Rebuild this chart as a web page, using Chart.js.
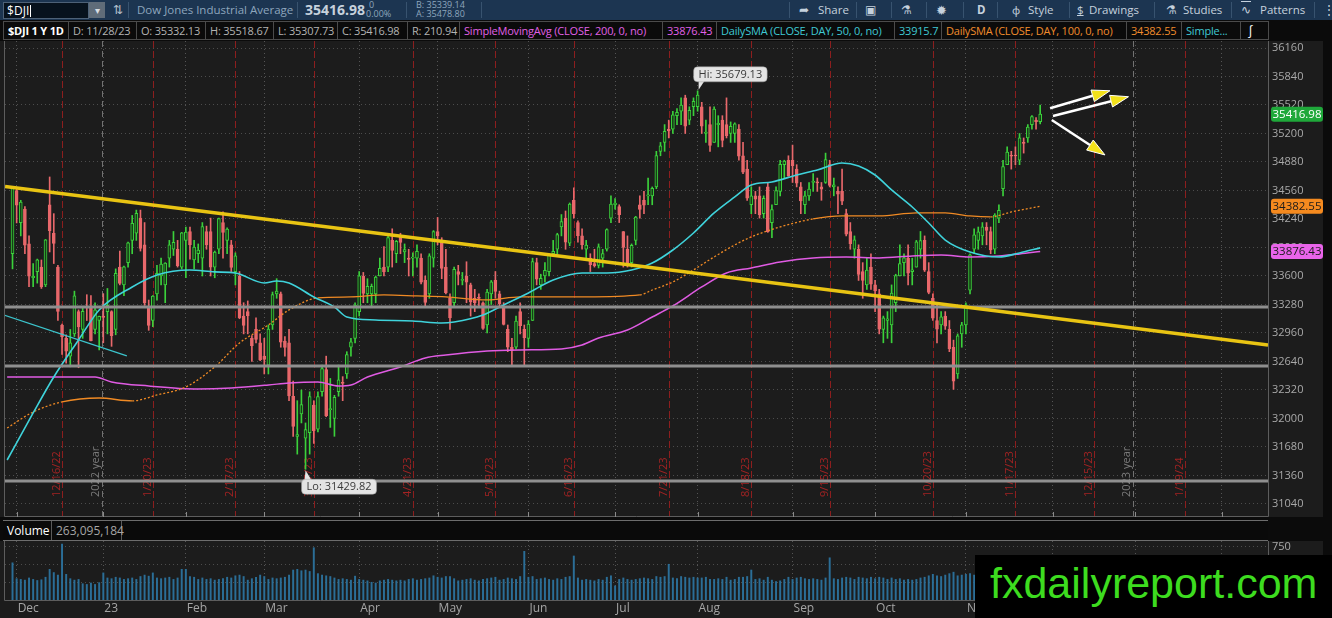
<!DOCTYPE html>
<html lang="en">
<head>
<meta charset="utf-8">
<title>$DJI 1 Y 1D</title>
<script src="https://cdn.jsdelivr.net/npm/chart.js@4.4.1/dist/chart.umd.min.js"></script>
<style>
  html, body { margin: 0; padding: 0; background: #0b0b0b; }
  body { position: relative; width: 1332px; height: 618px; overflow: hidden; font-family: "Open Sans", "Noto Sans", sans-serif; }
  .abs { position: absolute; white-space: nowrap; }
  #toolbar { left: 0; top: 0; width: 1332px; height: 20px; background: #1c3551; color: #c5d1dd; font-size: 11.5px; line-height: 20px; }
  #toolbar .sep { top: 2px; width: 1px; height: 16px; background: #38536f; }
  #toolbar .tiny { font-size: 9px; line-height: 10px; color: #8ea6bd; }
  #symbol { left: 3px; top: 2px; width: 84px; height: 15px; background: #07121d; border: 1px solid #4d6177; color: #fff; font-size: 12px; line-height: 15px; }
  #symbol i { display: inline-block; width: 1px; height: 12px; background: #fff; vertical-align: -2px; margin-left: 1px; }
  #ddBtn { left: 89px; top: 2px; width: 16px; height: 16px; background: #5f6c79; color: #d8dde2; font-size: 10px; line-height: 16px; text-align: center; }
  #info { left: 0; top: 20px; width: 1332px; height: 21px; background: #0b0b0b; }
  #info .cell { top: 1px; height: 19px; border: 1px solid #4b4b4b; border-left: none; font-size: 11px; letter-spacing: -0.2px; line-height: 17px; color: #b3b3b3; padding-left: 4px; box-sizing: border-box; }
  #priceWrap { left: 0; top: 41px; width: 1332px; height: 476px; }
  #volHead { left: 3px; top: 520px; width: 1265px; height: 21px; border-top: 1px solid #6d6d6d; border-bottom: 1px solid #6d6d6d; box-sizing: border-box; background: #0a0a0a; }
  #volHead .cell { top: 0; height: 19px; line-height: 19px; font-size: 12px; border-right: 1px solid #5a5a5a; box-sizing: border-box; padding-left: 4px; }
  #volWrap { left: 0; top: 541px; width: 1332px; height: 77px; }
  #brand { left: 975px; top: 555px; width: 357px; height: 63px; background: #000; }
  #brand span { position: absolute; left: 15px; top: 7px; font-family: "Liberation Sans", Arial, sans-serif; font-size: 43px; line-height: 43px; color: #3ddc1f; }
</style>
</head>
<body>

<div id="toolbar" class="abs">
  <div id="symbol" class="abs">&nbsp;$DJI<i></i></div>
  <div id="ddBtn" class="abs">&#9662;</div>
  <div class="abs" style="left:113px;color:#b8c4d0;font-size:12px;">&#8645;</div>
  <div class="abs sep" style="left:128px"></div>
  <div class="abs" style="left:137px;color:#8ea6bd;">Dow Jones Industrial Average</div>
  <div class="abs sep" style="left:297px"></div>
  <div class="abs" style="left:305px;font-weight:700;font-size:14px;color:#c6d1dc;">35416.98</div>
  <div class="abs tiny" style="left:369px;top:0">0</div>
  <div class="abs tiny" style="left:366px;top:9px">0.00%</div>
  <div class="abs sep" style="left:406px"></div>
  <div class="abs tiny" style="left:416px;top:0">B: 35339.14</div>
  <div class="abs tiny" style="left:416px;top:9px">A: 35478.80</div>
  <div class="abs sep" style="left:481px"></div>

  <div class="abs sep" style="left:789px"></div>
  <div class="abs" style="left:799px;font-size:12px;">&#10150;</div>
  <div class="abs" style="left:818px;">Share</div>
  <div class="abs sep" style="left:856px"></div>
  <div class="abs" style="left:865px;font-size:12px;">&#9635;</div>
  <div class="abs sep" style="left:891px"></div>
  <div class="abs" style="left:901px;font-size:12px;">&#9879;</div>
  <div class="abs sep" style="left:926px"></div>
  <div class="abs" style="left:936px;font-size:13px;">&#10041;</div>
  <div class="abs sep" style="left:963px"></div>
  <div class="abs" style="left:977px;font-weight:700;">D</div>
  <div class="abs sep" style="left:997px"></div>
  <div class="abs" style="left:1012px;">&#1092;</div>
  <div class="abs" style="left:1028px;">Style</div>
  <div class="abs sep" style="left:1069px"></div>
  <div class="abs" style="left:1077px;text-decoration:underline;">$</div>
  <div class="abs" style="left:1089px;">Drawings</div>
  <div class="abs sep" style="left:1154px"></div>
  <div class="abs" style="left:1166px;font-size:12px;">&#9879;</div>
  <div class="abs" style="left:1183px;">Studies</div>
  <div class="abs sep" style="left:1231px"></div>
  <div class="abs" style="left:1241px;text-decoration:overline;">&#8767;</div>
  <div class="abs" style="left:1260px;">Patterns</div>
  <div class="abs sep" style="left:1314px"></div>
  <div class="abs" style="left:1323px;">&#8942;</div>
</div>

<div id="info" class="abs">
  <div class="abs cell" style="left:3px;width:66px;border-left:1px solid #4b4b4b;color:#fff;font-weight:700;">$DJI 1 Y 1D</div>
  <div class="abs cell" style="left:69px;width:68px;">D: 11/28/23</div>
  <div class="abs cell" style="left:137px;width:69px;">O: 35332.13</div>
  <div class="abs cell" style="left:206px;width:68px;">H: 35518.67</div>
  <div class="abs cell" style="left:274px;width:64px;">L: 35307.73</div>
  <div class="abs cell" style="left:338px;width:70px;">C: 35416.98</div>
  <div class="abs cell" style="left:408px;width:52px;">R: 210.94</div>
  <div class="abs cell" style="left:460px;width:203px;color:#e060e6;">SimpleMovingAvg (CLOSE, 200, 0, no)</div>
  <div class="abs cell" style="left:663px;width:54px;color:#e060e6;">33876.43</div>
  <div class="abs cell" style="left:717px;width:178px;color:#3fc9d4;">DailySMA (CLOSE, DAY, 50, 0, no)</div>
  <div class="abs cell" style="left:895px;width:47px;color:#3fc9d4;">33915.7</div>
  <div class="abs cell" style="left:942px;width:185px;color:#f18b2c;">DailySMA (CLOSE, DAY, 100, 0, no)</div>
  <div class="abs cell" style="left:1127px;width:55px;color:#f18b2c;">34382.55</div>
  <div class="abs cell" style="left:1182px;width:59px;color:#3fc9d4;">Simple...</div>
  <div class="abs cell" style="left:1241px;width:28px;color:#fff;font-size:13px;padding-left:7px;">&#8747;</div>
</div>

<div id="priceWrap" class="abs"><canvas id="priceChart" width="1332" height="476"></canvas></div>

<div id="volHead" class="abs">
  <div class="abs cell" style="left:0;width:49px;color:#fff;">Volume</div>
  <div class="abs cell" style="left:49px;width:70px;color:#a5a5a5;">263,095,184</div>
</div>

<div id="volWrap" class="abs"><canvas id="volChart" width="1332" height="77"></canvas></div>

<div id="brand" class="abs"><span>fxdailyreport.com</span></div>

<script>
// trading days from 11/30/22 (index 0) to 11/28/23 (index 249), one line per month
const opens = [33850,
  34560, 34200, 34350, 33960, 33580, 33650, 33700, 33500, 34400, 34080, 33700, 33050, 32900, 32700, 32950, 33200, 33000, 33250, 33250, 33000, 33100,
  33150, 33200, 33200, 33000, 33700, 33500, 33750, 34000, 34080, 34250, 33950, 33250, 33100, 33400, 33600, 33500, 33800, 33900, 33900, 33700,
  34000, 34100, 33780, 33850, 33800, 34100, 34100, 33700, 33900, 34200, 34000, 33950, 33650, 33600, 33150, 33200, 32900, 33000, 32850,
  32700, 32600, 33050, 33400, 33400, 32870, 32850, 32250, 31800, 32050, 31780, 31840, 32150, 31880, 32300, 32550, 32100, 32000, 32300, 32400, 32500, 32800, 32900,
  33200, 33600, 33400, 33400, 33400, 33600, 33700, 33700, 34000, 33850, 34050, 33870, 33800, 33800, 33800, 33800, 33550, 33400, 33800,
  34100, 34000, 33700, 33350, 33300, 33650, 33550, 33600, 33500, 33350, 33350, 33300, 33050, 33400, 33550, 33400, 33250, 33000, 32800, 32800, 33200, 33000,
  32900, 33100, 33750, 33500, 33600, 33650, 33850, 33900, 34150, 34250, 33970, 34450, 34200, 34050, 33900, 33800, 33740, 33720, 33800, 33900, 34250,
  34400, 34380, 34100, 33900, 33750, 34000, 34400, 34450, 34500, 34500, 34600, 35000, 35100, 35250, 35250, 35400, 35450, 35600, 35350, 35500,
  35500, 35500, 35200, 35300, 35100, 35300, 35350, 35300, 35200, 35200, 35250, 34950, 34800, 34400, 34500, 34500, 34300, 34600, 34200, 34400, 34550, 34850, 34900,
  34900, 34800, 34600, 34400, 34500, 34650, 34650, 34600, 34650, 34850, 34600, 34550, 34550, 34300, 34100, 33900, 33900, 33650, 33500, 33700,
  33500, 33400, 33000, 33100, 33050, 33300, 33600, 33750, 33800, 33650, 33700, 33900, 34000, 33650, 33350, 33100, 33050, 33150, 33000, 32800, 32500, 32950,
  33050, 33440, 33900, 34000, 34050, 34150, 34100, 33900, 34250, 34580, 34850, 34950, 34950, 34900, 35100, 35150, 35300, 35350, 35332.13];

const highs = [34590,
  34595, 34450, 34380, 34050, 33740, 33790, 33780, 34010, 34712, 34300, 33720, 33060, 32940, 33000, 33430, 33220, 33240, 33390, 33380, 33300, 33150,
  33400, 33460, 33210, 33680, 33880, 33710, 33980, 34280, 34340, 34340, 34200, 33330, 33380, 33720, 33800, 33750, 34000, 34100, 34000, 34090,
  34150, 34150, 34000, 33960, 34200, 34160, 34250, 33880, 34250, 34320, 34140, 34000, 33860, 33650, 33300, 33320, 32930, 33130, 32950,
  32900, 33050, 33420, 33570, 33420, 32920, 33000, 32420, 32200, 32320, 31950, 32300, 32200, 32300, 32600, 32700, 32450, 32260, 32600, 32470, 32750, 32900, 33300,
  33650, 33640, 33570, 33510, 33600, 33800, 33930, 34060, 34130, 34000, 34080, 33960, 33900, 33860, 33950, 33850, 33600, 33850, 34110,
  34257, 34030, 33900, 33400, 33700, 33720, 33640, 33760, 33520, 33450, 33400, 33310, 33450, 33550, 33650, 33430, 33300, 33050, 32900, 33150, 33300, 33050,
  33100, 33800, 33800, 33620, 33750, 33850, 34000, 34080, 34290, 34330, 34420, 34590, 34220, 34130, 34000, 33850, 33900, 33960, 33900, 34130, 34500,
  34470, 34400, 34100, 34050, 33960, 34270, 34500, 34550, 34700, 34600, 35000, 35100, 35300, 35350, 35450, 35480, 35600, 35630, 35500, 35600,
  35679.13, 35550, 35350, 35500, 35500, 35400, 35400, 35600, 35330, 35320, 35300, 35100, 34900, 34600, 34550, 34600, 34500, 34650, 34400, 34600, 34900, 34900, 34950,
  35070, 34850, 34650, 34550, 34650, 34750, 34700, 34650, 34980, 34900, 34700, 34600, 34800, 34350, 34200, 34050, 33950, 33750, 33800, 33850,
  33550, 33450, 33150, 33200, 33500, 33620, 33950, 33850, 33950, 33800, 34000, 34100, 34050, 33750, 33400, 33300, 33200, 33200, 33100, 32880, 32950, 33080,
  33300, 33850, 34130, 34150, 34200, 34200, 34150, 34300, 34400, 34900, 35050, 35000, 35050, 35200, 35150, 35300, 35400, 35380, 35518.67];

const lows = [33680,
  34196, 34050, 33850, 33480, 33480, 33520, 33460, 33480, 33870, 33740, 33100, 32720, 32620, 32580, 32920, 32570, 32900, 33100, 32870, 32950, 32770,
  32850, 32950, 32810, 32940, 33500, 33380, 33700, 33850, 34000, 33880, 33270, 32990, 33030, 33330, 33500, 33300, 33700, 33830, 33700, 33680,
  33580, 33790, 33680, 33750, 33600, 33900, 33600, 33580, 33850, 33800, 33850, 33650, 33500, 33120, 32950, 32950, 32640, 32850, 32650,
  32500, 32500, 33000, 33350, 32800, 32700, 32200, 31800, 31600, 31950, 31429.82, 31600, 31720, 31850, 32250, 32020, 31900, 31800, 32250, 32200, 32450, 32700, 32850,
  33150, 33300, 33300, 33250, 33300, 33600, 33600, 33650, 33700, 33750, 33850, 33750, 33600, 33600, 33700, 33510, 33250, 33350, 33700,
  33950, 33570, 33400, 33000, 33250, 33500, 33500, 33300, 33150, 33200, 33250, 33000, 32960, 33280, 33350, 33250, 33050, 32750, 32600, 32780, 32950, 32600,
  32800, 33100, 33500, 33450, 33530, 33600, 33830, 33850, 34050, 33900, 33940, 34250, 33980, 33900, 33800, 33650, 33700, 33690, 33700, 33880, 34200,
  34350, 34200, 33700, 33700, 33700, 33950, 34250, 34300, 34400, 34400, 34580, 34950, 35000, 35150, 35200, 35300, 35300, 35200, 35300, 35400,
  35450, 35200, 35100, 35000, 35100, 35050, 35050, 35150, 35100, 35100, 34900, 34750, 34450, 34300, 34300, 34250, 34250, 34090, 34030, 34400, 34500, 34700, 34720,
  34650, 34600, 34300, 34300, 34450, 34550, 34550, 34450, 34640, 34600, 34500, 34300, 34400, 34050, 33900, 33800, 33550, 33350, 33450, 33450,
  33200, 32950, 32850, 32900, 32850, 33200, 33600, 33600, 33500, 33500, 33700, 33800, 33650, 33400, 33100, 32850, 32950, 33000, 32750, 32327, 32450, 32800,
  32950, 33400, 33850, 33900, 33950, 33950, 33850, 33850, 34200, 34500, 34850, 34800, 34850, 34850, 34980, 35100, 35250, 35250, 35307.73];

const closes = [34590,
  34395, 34430, 33947, 33597, 33598, 33781, 33477, 34005, 34108, 33966, 33203, 32920, 32757, 32850, 33376, 33027, 33203, 33241, 32875, 33221, 33147,
  33136, 33270, 32930, 33631, 33517, 33704, 33973, 34190, 34303, 33910, 33297, 33045, 33375, 33630, 33734, 33744, 33949, 33978, 33717, 34086,
  34093, 33949, 33926, 33891, 34156, 33949, 33699, 33869, 34246, 34089, 34128, 33697, 33827, 33130, 33045, 33154, 32817, 32889, 32657,
  32662, 33004, 33391, 33431, 32856, 32798, 32254, 31910, 31820, 32155, 31875, 32247, 31862, 32245, 32561, 32031, 32106, 32238, 32433, 32395, 32718, 32860, 33274,
  33601, 33403, 33483, 33485, 33587, 33685, 33647, 34030, 33887, 33988, 33977, 33897, 33787, 33809, 33876, 33531, 33302, 33826, 34098,
  34051, 33684, 33414, 33128, 33674, 33619, 33562, 33531, 33309, 33301, 33349, 33012, 33420, 33535, 33427, 33286, 33055, 32800, 32765, 33093, 33043, 32908,
  33061, 33763, 33563, 33573, 33665, 33834, 33877, 34066, 34212, 33979, 34408, 34299, 34054, 33952, 33947, 33727, 33715, 33927, 33853, 34122, 34408,
  34418, 34288, 33922, 33734, 33945, 34262, 34347, 34395, 34509, 34585, 34952, 35061, 35225, 35228, 35411, 35438, 35520, 35282, 35459, 35560,
  35630, 35282, 35216, 35066, 35473, 35314, 35123, 35176, 35281, 35308, 34946, 34766, 34475, 34501, 34464, 34288, 34473, 34099, 34347, 34560, 34853, 34891, 34722,
  34838, 34642, 34443, 34501, 34577, 34664, 34646, 34576, 34907, 34618, 34625, 34518, 34441, 34070, 33964, 34007, 33619, 33551, 33667, 33508,
  33433, 33002, 33129, 33120, 33408, 33605, 33740, 33805, 33631, 33670, 33985, 33998, 33666, 33415, 33127, 33002, 33141, 33036, 32785, 32418, 32929, 33053,
  33275, 33839, 34061, 34096, 34153, 34112, 33892, 34283, 34337, 34828, 34991, 34945, 34947, 35151, 35088, 35273, 35390, 35333, 35416.98];

// volume, millions
const volumes = [530,
  310, 300, 290, 320, 300, 285, 295, 330, 440, 395, 360, 790, 370, 310, 290, 300, 240, 230, 250, 230, 255,
  390, 320, 310, 330, 320, 300, 310, 320, 300, 340, 360, 345, 390, 320, 310, 320, 330, 300, 320, 440,
  440, 340, 330, 300, 320, 300, 310, 290, 300, 310, 330, 320, 350, 360, 340, 290, 310, 330, 360,
  340, 300, 320, 310, 320, 330, 360, 430, 440, 420, 430, 410, 740, 380, 360, 350, 340, 320, 300, 310, 300, 290, 345,
  300, 290, 280, 260, 250, 280, 290, 300, 290, 280, 290, 280, 300, 310, 290, 300, 310, 320, 350,
  330, 320, 340, 340, 310, 280, 290, 300, 310, 290, 280, 300, 310, 320, 330, 290, 300, 320, 310, 300, 340, 690,
  330, 340, 300, 310, 320, 300, 290, 310, 300, 330, 340, 625, 320, 290, 300, 290, 280, 300, 290, 330, 350,
  210, 300, 320, 300, 290, 300, 310, 320, 310, 300, 340, 330, 340, 510, 320, 310, 340, 330, 320, 330,
  320, 320, 330, 300, 300, 310, 300, 330, 290, 300, 330, 330, 340, 430, 300, 310, 290, 330, 290, 270, 280, 300, 330,
  300, 320, 330, 310, 300, 310, 300, 290, 320, 600, 310, 300, 320, 330, 320, 300, 330, 320, 310, 330,
  310, 330, 320, 300, 320, 300, 310, 290, 300, 290, 300, 320, 330, 350, 370, 350, 340, 360, 380, 400, 350, 360,
  370, 380, 360, 300, 310, 300, 290, 300, 280, 370, 330, 310, 420, 270, 250, 260, 150, 240, 263.1];

// moving averages at sample days
const sma50Idx = [-1.3, 5, 10, 16, 21, 29, 35, 43, 49, 54, 61, 64, 67, 73, 78, 81, 88, 97, 104, 107, 114, 119, 125, 131, 138, 144, 150, 155, 160, 165, 170, 175, 179, 184, 190, 195, 201, 205, 209, 213, 218, 222, 226, 232, 239, 244, 249];
const sma50Val = [31534, 32062, 32466, 32882, 33219, 33477, 33612, 33668, 33646, 33634, 33522, 33544, 33522, 33365, 33252, 33140, 33106, 33095, 33072, 33084, 33162, 33275, 33410, 33555, 33634, 33634, 33668, 33746, 33892, 34083, 34308, 34488, 34622, 34656, 34734, 34790, 34869, 34835, 34734, 34566, 34375, 34195, 34004, 33870, 33814, 33859, 33916];
const sma100Idx = [-1.3, 5, 12, 21, 29, 35, 42, 49, 55, 62, 67, 74, 82, 90, 98, 105, 115, 123, 139, 152, 155, 160, 165, 170, 175, 179, 186, 194, 201, 210, 219, 226, 232, 237, 242, 249];
const sma100Val = [31893, 32073, 32186, 32230, 32197, 32264, 32354, 32579, 32848, 33050, 33219, 33354, 33365, 33387, 33376, 33365, 33331, 33365, 33365, 33387, 33443, 33533, 33668, 33814, 33949, 34039, 34151, 34241, 34274, 34274, 34308, 34308, 34274, 34263, 34319, 34383];
const sma200Idx = [-1.3, 9, 20, 24, 33, 45, 53, 62, 67, 74, 79, 82, 86, 94, 100, 105, 115, 123, 133, 138, 142, 149, 155, 160, 167, 173, 179, 186, 194, 202, 210, 218, 225, 232, 239, 244, 249];
const sma200Val = [32466, 32466, 32466, 32410, 32365, 32332, 32343, 32376, 32399, 32410, 32365, 32376, 32466, 32579, 32680, 32713, 32758, 32770, 32781, 32826, 32904, 32994, 33140, 33264, 33477, 33634, 33690, 33758, 33803, 33814, 33803, 33825, 33836, 33814, 33825, 33848, 33876];

// drawings
const trendX = [-1.8, 304.2];
const trendY = [34605, 32825];
const shortTrendX = [-2.1, 27.7];
const shortTrendY = [33162, 32702];
const supportLevels = [33252, 32590, 31298];
const arrowFromX = [251.4, 252.1, 251.8];
const arrowFromY = [35483, 35396, 35352];
const arrowToX = [265.9, 270.4, 264.7];
const arrowToY = [35680, 35613, 34959];
const extremeIdx = [166, 71];
const extremeVal = [35679.13, 31429.82];
const extremeText = ['Hi: 35679.13', 'Lo: 31429.82'];

// axes
const priceTicks = [31040, 31360, 31680, 32000, 32320, 32640, 32960, 33280, 33600, 33920, 34240, 34560, 34880, 35200, 35520, 35840, 36160];
const volTicks = [250, 500, 750];
const monthIdx = [1, 22, 42, 61, 84, 103, 125, 146, 166, 189, 209, 231, 252, 272, 293];
const monthLabels = ['Dec', '23', 'Feb', 'Mar', 'Apr', 'May', 'Jun', 'Jul', 'Aug', 'Sep', 'Oct', 'Nov', 'Dec', '24', 'Feb'];
const expiryIdx = [12, 34, 54, 73, 97, 117, 136, 159, 179, 198, 223, 243, 262, 284];
const expiryLabels = ['12/16/22', '1/20/23', '2/17/23', '3/17/23', '4/21/23', '5/19/23', '6/16/23', '7/21/23', '8/18/23', '9/15/23', '10/20/23', '11/17/23', '12/15/23', '1/19/24'];
const yearIdx = [21.6, 271.6];
const yearLabels = ['2022 year', '2023 year'];
const axisTagValues = [35416.98, 34382.55, 33876.43];
const axisTagFill = ['#1fa83a', '#f58a1f', '#e964ea'];
const axisTagInk = ['#ffffff', '#1b1b1b', '#1b1b1b'];

const X_MIN = -1.82, X_MAX = 304.2;
const UP = '#3bd13b', UP_FILL = '#173d17', DOWN = '#e8686b';
const FONT = '"Open Sans", sans-serif';

Chart.defaults.font.family = FONT;
Chart.defaults.color = '#a9a9a9';

const dayIdx = closes.map((c, i) => i);
const isUp = i => closes[i] >= opens[i];
const pts = (xs, ys) => xs.map((x, i) => ({ x: x, y: ys[i] }));

function monthTicks(scale) {
  scale.ticks = monthIdx.map(v => ({ value: v }));
}

// keep the plot area flush with the canvas edges
function flatX(h) {
  return s => { s.height = h; s.paddingLeft = 0; s.paddingRight = 0; };
}
function flatY(s) {
  s.width = 64; s.paddingTop = 0; s.paddingBottom = 0;
}

function roundRect(ctx, x, y, w, h, r) {
  ctx.beginPath();
  ctx.moveTo(x + r, y);
  ctx.arcTo(x + w, y, x + w, y + h, r);
  ctx.arcTo(x + w, y + h, x, y + h, r);
  ctx.arcTo(x, y + h, x, y, r);
  ctx.arcTo(x, y, x + w, y, r);
  ctx.closePath();
}

function drawArrow(ctx, x0, y0, x1, y1) {
  const ang = Math.atan2(y1 - y0, x1 - x0);
  const len = 18, half = 6;
  const bx = x1 - len * Math.cos(ang), by = y1 - len * Math.sin(ang);
  ctx.strokeStyle = '#ffffff';
  ctx.lineWidth = 2.5;
  ctx.beginPath();
  ctx.moveTo(x0, y0);
  ctx.lineTo(bx, by);
  ctx.stroke();
  ctx.beginPath();
  ctx.moveTo(x1, y1);
  ctx.lineTo(bx + half * Math.sin(ang), by - half * Math.cos(ang));
  ctx.lineTo(bx - half * Math.sin(ang), by + half * Math.cos(ang));
  ctx.closePath();
  ctx.fillStyle = '#f2e11a';
  ctx.fill();
  ctx.strokeStyle = '#ffffff';
  ctx.lineWidth = 1;
  ctx.stroke();
}

function drawCallout(ctx, px, py, text, above) {
  ctx.font = '11px ' + FONT;
  const w = ctx.measureText(text).width + 10, h = 15;
  const bx = px - 4, by = above ? py - 24 : py + 10;
  ctx.fillStyle = '#e4e4e4';
  ctx.beginPath();
  if (above) {
    ctx.moveTo(bx + 5, by + h - 1); ctx.lineTo(px + 1, py - 1); ctx.lineTo(bx + 11, by + h - 1);
  } else {
    ctx.moveTo(bx + 3, by + 1); ctx.lineTo(px, py + 1); ctx.lineTo(bx + 10, by + 1);
  }
  ctx.fill();
  roundRect(ctx, bx, by, w, h, 4);
  ctx.fill();
  ctx.strokeStyle = '#9a9a9a';
  ctx.lineWidth = 0.5;
  ctx.stroke();
  ctx.fillStyle = '#3a3a3a';
  ctx.textAlign = 'left';
  ctx.textBaseline = 'middle';
  ctx.fillText(text, bx + 5, by + h / 2 + 0.5);
}

const paneBg = {
  id: 'paneBg',
  beforeDraw(chart) {
    const ctx = chart.ctx;
    ctx.save();
    ctx.fillStyle = '#1c1c1c';
    ctx.fillRect(0, 0, 1323, chart.height);
    ctx.restore();
  }
};

const priceDecor = {
  id: 'priceDecor',
  beforeDatasetsDraw(chart) {
    const { ctx, chartArea: a, scales: { x } } = chart;
    ctx.save();
    ctx.lineWidth = 1;
    ctx.font = '11px ' + FONT;
    ctx.textBaseline = 'middle';
    ctx.textAlign = 'left';
    // option expiration markers
    expiryIdx.forEach((v, i) => {
      const px = Math.round(x.getPixelForValue(v)) + 0.5;
      ctx.strokeStyle = '#8c1e1e';
      ctx.setLineDash([7, 3]);
      ctx.beginPath(); ctx.moveTo(px, a.top); ctx.lineTo(px, a.bottom); ctx.stroke();
      ctx.save();
      ctx.translate(px - 6, a.bottom - 20);
      ctx.rotate(-Math.PI / 2);
      ctx.fillStyle = '#a32323';
      ctx.fillText(expiryLabels[i], 0, 0);
      ctx.restore();
    });
    // year separators
    yearIdx.forEach((v, i) => {
      const px = Math.round(x.getPixelForValue(v)) + 0.5;
      ctx.strokeStyle = '#727272';
      ctx.setLineDash([6, 4]);
      ctx.beginPath(); ctx.moveTo(px, a.top); ctx.lineTo(px, a.bottom); ctx.stroke();
      ctx.save();
      ctx.translate(px - 7, a.bottom - 20);
      ctx.rotate(-Math.PI / 2);
      ctx.fillStyle = '#7a7a7a';
      ctx.fillText(yearLabels[i], 0, 0);
      ctx.restore();
    });
    ctx.restore();
  },
  afterDatasetsDraw(chart) {
    const { ctx, chartArea: a, scales: { x, y } } = chart;
    ctx.save();
    for (let i = 0; i < arrowFromX.length; i++) {
      drawArrow(ctx, x.getPixelForValue(arrowFromX[i]), y.getPixelForValue(arrowFromY[i]),
        x.getPixelForValue(arrowToX[i]), y.getPixelForValue(arrowToY[i]));
    }
    extremeIdx.forEach((v, i) => {
      drawCallout(ctx, x.getPixelForValue(v), y.getPixelForValue(extremeVal[i]), extremeText[i], i === 0);
    });
    // pane frame and month ticks on the bottom edge
    ctx.strokeStyle = '#5d5d5d';
    ctx.lineWidth = 1;
    ctx.beginPath();
    ctx.moveTo(a.left - 0.5, a.top); ctx.lineTo(a.left - 0.5, a.bottom - 0.5); ctx.lineTo(a.right + 0.5, a.bottom - 0.5);
    ctx.lineTo(a.right + 0.5, a.top);
    ctx.stroke();
    ctx.strokeStyle = '#8a8a8a';
    monthIdx.forEach(v => {
      const px = Math.round(x.getPixelForValue(v)) + 0.5;
      ctx.beginPath(); ctx.moveTo(px, a.bottom - 5); ctx.lineTo(px, a.bottom); ctx.stroke();
    });
    ctx.restore();
  },
  afterDraw(chart) {
    const { ctx, chartArea: a, scales: { y } } = chart;
    ctx.save();
    ctx.font = '11.5px ' + FONT;
    ctx.textAlign = 'center';
    ctx.textBaseline = 'middle';
    axisTagValues.forEach((v, i) => {
      const py = y.getPixelForValue(v);
      roundRect(ctx, a.right + 3, py - 7.5, 52, 15, 3);
      ctx.fillStyle = axisTagFill[i];
      ctx.fill();
      ctx.fillStyle = axisTagInk[i];
      ctx.fillText(v.toFixed(2), a.right + 29, py + 0.5);
    });
    ctx.restore();
  }
};

new Chart(document.getElementById('priceChart'), {
  type: 'bar',
  data: {
    datasets: [
      {
        label: 'wicks',
        data: dayIdx.map(i => ({ x: i, y: [lows[i], highs[i]] })),
        backgroundColor: c => (c.dataIndex !== undefined && isUp(c.dataIndex)) ? UP : DOWN,
        barThickness: 1,
        grouped: false,
        order: 30
      },
      {
        label: 'bodies',
        data: dayIdx.map(i => ({ x: i, y: [opens[i], closes[i]] })),
        backgroundColor: c => (c.dataIndex !== undefined && isUp(c.dataIndex)) ? UP_FILL : DOWN,
        borderColor: c => (c.dataIndex !== undefined && isUp(c.dataIndex)) ? UP : DOWN,
        borderWidth: 1,
        borderSkipped: false,
        barThickness: 3,
        minBarLength: 1,
        grouped: false,
        order: 29
      },
      {
        type: 'line', label: 'SMA 200', data: pts(sma200Idx, sma200Val),
        borderColor: '#e05be3', borderWidth: 1.5, pointRadius: 0, cubicInterpolationMode: 'monotone', order: 12
      },
      {
        type: 'line', label: 'SMA 100', data: pts(sma100Idx, sma100Val),
        borderColor: '#f08a24', borderWidth: 1.3, pointRadius: 0, cubicInterpolationMode: 'monotone', order: 11,
        segment: { borderDash: c => (c.p1.parsed.y - c.p0.parsed.y) / (c.p1.parsed.x - c.p0.parsed.x) > 8 ? [2, 2] : undefined }
      },
      {
        type: 'line', label: 'SMA 50', data: pts(sma50Idx, sma50Val),
        borderColor: '#3fd3db', borderWidth: 1.6, pointRadius: 0, cubicInterpolationMode: 'monotone', order: 10
      },
      ...supportLevels.map(v => ({
        type: 'line', label: 'level', data: [{ x: X_MIN - 1, y: v }, { x: X_MAX + 1, y: v }],
        borderColor: '#8f8f8f', borderWidth: 3, pointRadius: 0, order: 5
      })),
      {
        type: 'line', label: 'short trend', data: pts(shortTrendX, shortTrendY),
        borderColor: '#3cc4cc', borderWidth: 1.3, pointRadius: 0, order: 4
      },
      {
        type: 'line', label: 'trend', data: pts(trendX, trendY),
        borderColor: '#e9c413', borderWidth: 3.5, pointRadius: 0, order: 1
      }
    ]
  },
  options: {
    responsive: false,
    animation: false,
    devicePixelRatio: 1,
    layout: { autoPadding: false, padding: { left: 5, right: 0, top: 0, bottom: 0 } },
    plugins: { legend: { display: false }, tooltip: { enabled: false } },
    scales: {
      x: {
        type: 'linear', min: X_MIN, max: X_MAX, offset: false,
        afterBuildTicks: monthTicks,
        afterFit: flatX(0),
        ticks: { display: false },
        grid: { color: '#555555', drawTicks: false, offset: false },
        border: { display: false, dash: [1, 3] }
      },
      y: {
        position: 'right',
        min: 30894, max: 36238.6,
        afterBuildTicks: s => { s.ticks = priceTicks.map(v => ({ value: v })); },
        afterFit: flatY,
        ticks: { color: '#a9a9a9', font: { size: 11 }, padding: 4, callback: v => String(v) },
        grid: { color: '#4c4c4c', drawTicks: false },
        border: { display: false, dash: [1, 3] }
      }
    }
  },
  plugins: [paneBg, priceDecor]
});

const volFrame = {
  id: 'volFrame',
  afterDatasetsDraw(chart) {
    const { ctx, chartArea: a } = chart;
    ctx.save();
    ctx.strokeStyle = '#5d5d5d';
    ctx.lineWidth = 1;
    ctx.beginPath();
    ctx.moveTo(a.left - 0.5, a.top); ctx.lineTo(a.left - 0.5, a.bottom - 0.5); ctx.lineTo(a.right + 0.5, a.bottom - 0.5);
    ctx.lineTo(a.right + 0.5, a.top);
    ctx.stroke();
    ctx.restore();
  }
};

new Chart(document.getElementById('volChart'), {
  type: 'bar',
  data: {
    datasets: [{
      label: 'Volume',
      data: dayIdx.map(i => ({ x: i, y: volumes[i] })),
      backgroundColor: '#2b6e97',
      barThickness: 1.3,
      grouped: false
    }]
  },
  options: {
    responsive: false,
    animation: false,
    devicePixelRatio: 1,
    layout: { autoPadding: false, padding: { left: 5, right: 0, top: 0, bottom: 0 } },
    plugins: { legend: { display: false }, tooltip: { enabled: false } },
    scales: {
      x: {
        type: 'linear', min: X_MIN, max: X_MAX, offset: false,
        afterBuildTicks: monthTicks,
        afterFit: flatX(17),
        ticks: { color: '#a5a5a5', font: { size: 12 }, align: 'start', labelOffset: 1, padding: 0,
                 autoSkip: false, maxRotation: 0, callback: (v, i) => monthLabels[i] },
        grid: { color: '#555555', drawTicks: false, offset: false },
        border: { display: false, dash: [1, 3] }
      },
      y: {
        position: 'right',
        min: 0, max: 833,
        afterBuildTicks: s => { s.ticks = volTicks.map(v => ({ value: v })); },
        afterFit: flatY,
        ticks: { color: '#a9a9a9', font: { size: 11 }, padding: 4, callback: v => String(v) },
        grid: { color: '#4c4c4c', drawTicks: false },
        border: { display: false, dash: [1, 3] }
      }
    }
  },
  plugins: [paneBg, volFrame]
});
</script>
</body>
</html>
